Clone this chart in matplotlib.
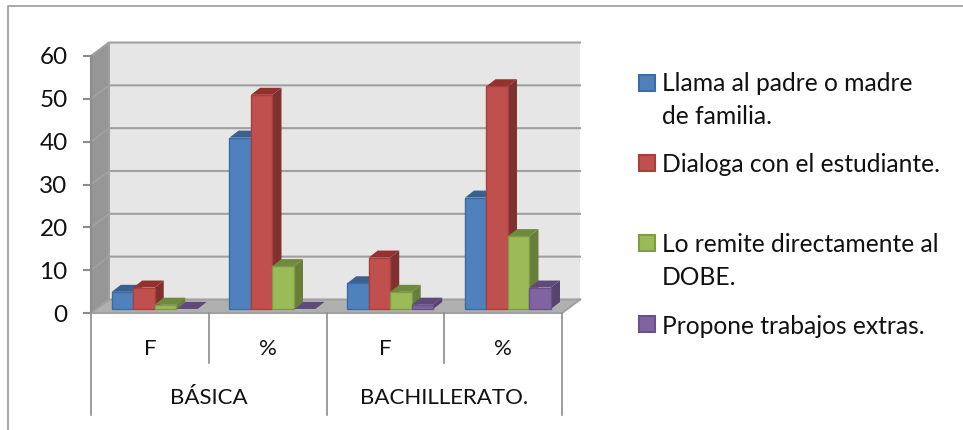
import matplotlib
matplotlib.use('Agg')
import matplotlib.pyplot as plt
from matplotlib.patches import Rectangle

plt.rcParams['font.family'] = ['Lato', 'DejaVu Sans']

niveles = ['BÁSICA', 'BACHILLERATO.']
columnas = ['F', '%', 'F', '%']
llama = [4, 40, 6, 26]
dialoga = [5, 50, 12, 52]
remite = [1, 10, 4, 17]
propone = [0, 0, 1, 5]
nombres = ['Llama al padre o madre\nde familia.', 'Dialoga con el estudiante.',
           'Lo remite directamente al\nDOBE.', 'Propone trabajos extras.']
series = [llama, dialoga, remite, propone]
ticks = [0, 10, 20, 30, 40, 50, 60]

# front, side and top colours for each series
colores = [('#4F81BD', '#3A5F8F', '#38618F'), ('#C0504D', '#7F3130', '#93312F'),
           ('#9BBB59', '#677F38', '#6F8A3C'), ('#8064A2', '#574270', '#5F4A7C')]
bordes = ['#3A6CA6', '#A5403D', '#7F9C45', '#6A5288']

W, H = 963, 430
x0, x1, y0, y60 = 91, 562, 313, 56
PX = 4 / (x1 - x0)           # category units per pixel
PY = 60 / (y0 - y60)         # value units per pixel
DX, DY = 18 * PX, 13.5 * PY  # depth of the box
BAR_W = 21.5 * PX
BAR_DX, BAR_DY = 9 * PX, 7 * PY

fig = plt.figure(figsize=(W / 100, H / 100), dpi=100)
ax = fig.add_axes([x0 / W, 1 - y0 / H, (x1 - x0) / W, (y0 - y60) / H])
ax.set_xlim(0, 4)
ax.set_ylim(0, 60)
ax.patch.set_visible(False)
for s in ax.spines.values():
    s.set_visible(False)

# walls and floor
ax.fill([DX, 4 + DX, 4 + DX, DX], [DY, DY, 60 + DY, 60 + DY], color='#E6E6E6', clip_on=False, zorder=1, lw=0)
ax.fill([0, DX, DX, 0], [0, DY, 60 + DY, 60], color='#969696', clip_on=False, zorder=1, lw=0)
ax.fill([0, 4, 4 + DX, DX], [0, 0, DY, DY], color='#B0B0B0', clip_on=False, zorder=1, lw=0)
for t in ticks:
    ax.plot([0, DX, 4 + DX], [t, t + DY, t + DY], color='#A0A0A0', lw=1.5, clip_on=False, zorder=2)
ax.plot([0, 0], [0, 60], color='#8C8C8C', lw=1.5, clip_on=False, zorder=2)
ax.plot([DX, DX], [DY, 60 + DY], color='#A0A0A0', lw=1.5, clip_on=False, zorder=2)
ax.plot([0, 4, 4 + DX], [0, 0, DY], color='#A0A0A0', lw=1.5, clip_on=False, zorder=2)

# bars, left to right so each one covers the side of the one before
base = 0.3 * DY
shift = 0.27 * DX
n = len(series)
orden = 3
for c in range(len(columnas)):
    for i, vals in enumerate(series):
        v = vals[c]
        left = c + 0.5 + shift + (i - n / 2) * BAR_W
        right = left + BAR_W
        top = base + v
        front, side, roof = colores[i]
        ax.fill([right, right + BAR_DX, right + BAR_DX, right],
                [base, base + BAR_DY, top + BAR_DY, top], color=side, lw=0, clip_on=False, zorder=orden)
        ax.fill([left, right, right + BAR_DX, left + BAR_DX],
                [top, top, top + BAR_DY, top + BAR_DY], color=roof, lw=0, clip_on=False, zorder=orden)
        if v > 0:
            ax.bar(left, v, BAR_W, bottom=base, align='edge', color=front, edgecolor=bordes[i],
                   linewidth=1, clip_on=False, zorder=orden + 1)
        orden += 2

# axis
ax.set_yticks(ticks)
ax.set_xticks([])
ax.tick_params(axis='y', length=5.8, width=1.5, color='#8C8C8C', pad=11, labelsize=17.5, labelcolor='#111111')

# category table under the floor
for x in [0, 1, 2, 3, 4]:
    bajo = 102 if x % 2 == 0 else 50
    ax.plot([x, x], [0, -bajo * PY], color='#8C8C8C', lw=1.2, clip_on=False, zorder=2)
for k, etiqueta in enumerate(columnas):
    ax.text(k + 0.5, -36 * PY, etiqueta, ha='center', va='center', fontsize=16, color='#111111')
for k, etiqueta in enumerate(niveles):
    ax.text(2 * k + 1, -85.5 * PY, etiqueta, ha='center', va='center', fontsize=16, color='#111111')

# legend, its rows are unevenly spaced in the original
filas = [83, 163, 243, 324]
saltos = [17, 2, 18, 2]
for i, nombre in enumerate(nombres):
    fig.add_artist(Rectangle((639 / W, 1 - (filas[i] + 8) / H), 16 / W, 16 / H, transform=fig.transFigure,
                             facecolor=colores[i][0], edgecolor=bordes[i], linewidth=1.5))
    fig.text(662 / W, 1 - (filas[i] + saltos[i]) / H, nombre, ha='left', va='center', fontsize=17.7,
             color='#111111', linespacing=1.52)

# chart frame
fig.add_artist(plt.Line2D([8 / W, 8 / W, 1], [0, 1 - 5.5 / H, 1 - 5.5 / H], color='#999999', lw=1.2))

fig.savefig('out.png', dpi=100)
